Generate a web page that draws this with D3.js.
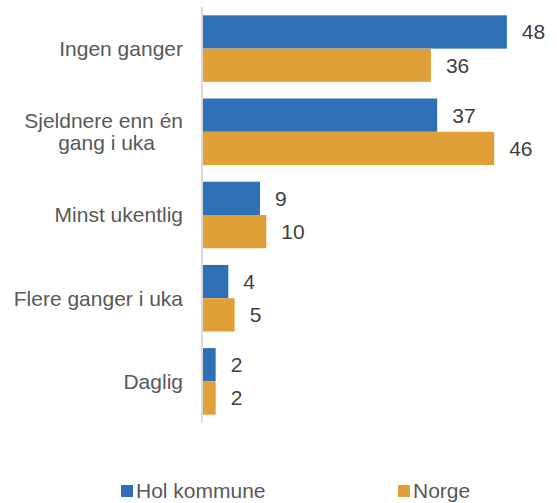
<!DOCTYPE html>
<html>
<head>
<meta charset="utf-8">
<script src="https://cdn.jsdelivr.net/npm/d3@7"></script>
<style>
  html, body { margin: 0; padding: 0; background: #fff; }
  svg { display: block; font-family: "Liberation Sans", Arial, sans-serif; }
</style>
</head>
<body>
<svg id="chart" width="557" height="503"></svg>
<script>
// Categories (top to bottom) and wrapped label lines
const categories = ["Ingen ganger", "Sjeldnere enn én gang i uka", "Minst ukentlig", "Flere ganger i uka", "Daglig"];
const categoryLines = [["Ingen ganger"], ["Sjeldnere enn én", "gang i uka"], ["Minst ukentlig"], ["Flere ganger i uka"], ["Daglig"]];
const seriesNames = ["Hol kommune", "Norge"];
const holValues = [48, 37, 9, 4, 2];
const norgeValues = [36, 46, 10, 5, 2];
const colors = ["#2E70B6", "#E09F37"];

const svg = d3.select("#chart");
const axisX = 203;
const fontSize = 21;

const x = d3.scaleLinear().domain([0, 50]).range([axisX, axisX + 50 * 6.33]);
const y = d3.scaleBand().domain(categories).range([7, 423]).paddingInner(0.2).paddingOuter(0.1);
const inner = d3.scaleBand().domain(seriesNames).range([0, y.bandwidth()]);

const rows = categories.map((c, i) => ({ cat: c, lines: categoryLines[i], vals: [holValues[i], norgeValues[i]] }));

// Bars
const groups = svg.selectAll("g.row").data(rows).join("g").attr("class", "row")
  .attr("transform", d => `translate(0,${y(d.cat)})`);

groups.selectAll("rect").data(d => d.vals.map((v, j) => ({ v, s: seriesNames[j], j })))
  .join("rect")
  .attr("x", x(0))
  .attr("y", d => inner(d.s))
  .attr("width", d => x(d.v) - x(0))
  .attr("height", inner.bandwidth())
  .attr("fill", d => colors[d.j]);

// Value labels
groups.selectAll("text.val").data(d => d.vals.map((v, j) => ({ v, s: seriesNames[j], j })))
  .join("text").attr("class", "val")
  .attr("x", d => x(d.v) + 15)
  .attr("y", d => inner(d.s) + inner.bandwidth() / 2)
  .attr("dy", "0.35em")
  .attr("font-size", fontSize)
  .attr("fill", "#404040")
  .text(d => d.v);

// Category axis line
svg.append("line")
  .attr("x1", axisX - 1).attr("x2", axisX - 1)
  .attr("y1", 7).attr("y2", 423)
  .attr("stroke", "#D9D9D9").attr("stroke-width", 2);

// Category labels; wrapped lines are centred under the first line
const labelRight = axisX - 20;
rows.forEach(r => {
  const cy = y(r.cat) + y.bandwidth() / 2;
  const n = r.lines.length;
  const lh = 22;
  const t = svg.append("text")
    .attr("font-size", fontSize)
    .attr("fill", "#595959");
  const spans = r.lines.map((ln, k) => t.append("tspan")
    .attr("y", cy + (k - (n - 1) / 2) * lh)
    .attr("dy", "0.35em")
    .text(ln));
  if (n === 1) {
    spans[0].attr("x", labelRight).attr("text-anchor", "end");
  } else {
    const w = d3.max(spans, s => s.node().getComputedTextLength());
    const cx = labelRight - w / 2 + 3;
    spans.forEach((s, k) => s.attr("text-anchor", k === 0 ? "end" : "middle").attr("x", k === 0 ? labelRight : cx));
  }
});

// Legend
const legendX = [121, 398];
seriesNames.forEach((s, j) => {
  const g = svg.append("g").attr("transform", `translate(${legendX[j]},485)`);
  g.append("rect").attr("width", 12).attr("height", 12).attr("fill", colors[j]);
  g.append("text").attr("x", 15).attr("y", 6).attr("dy", "0.35em")
    .attr("font-size", fontSize).attr("fill", "#595959").text(s);
});
</script>
</body>
</html>
